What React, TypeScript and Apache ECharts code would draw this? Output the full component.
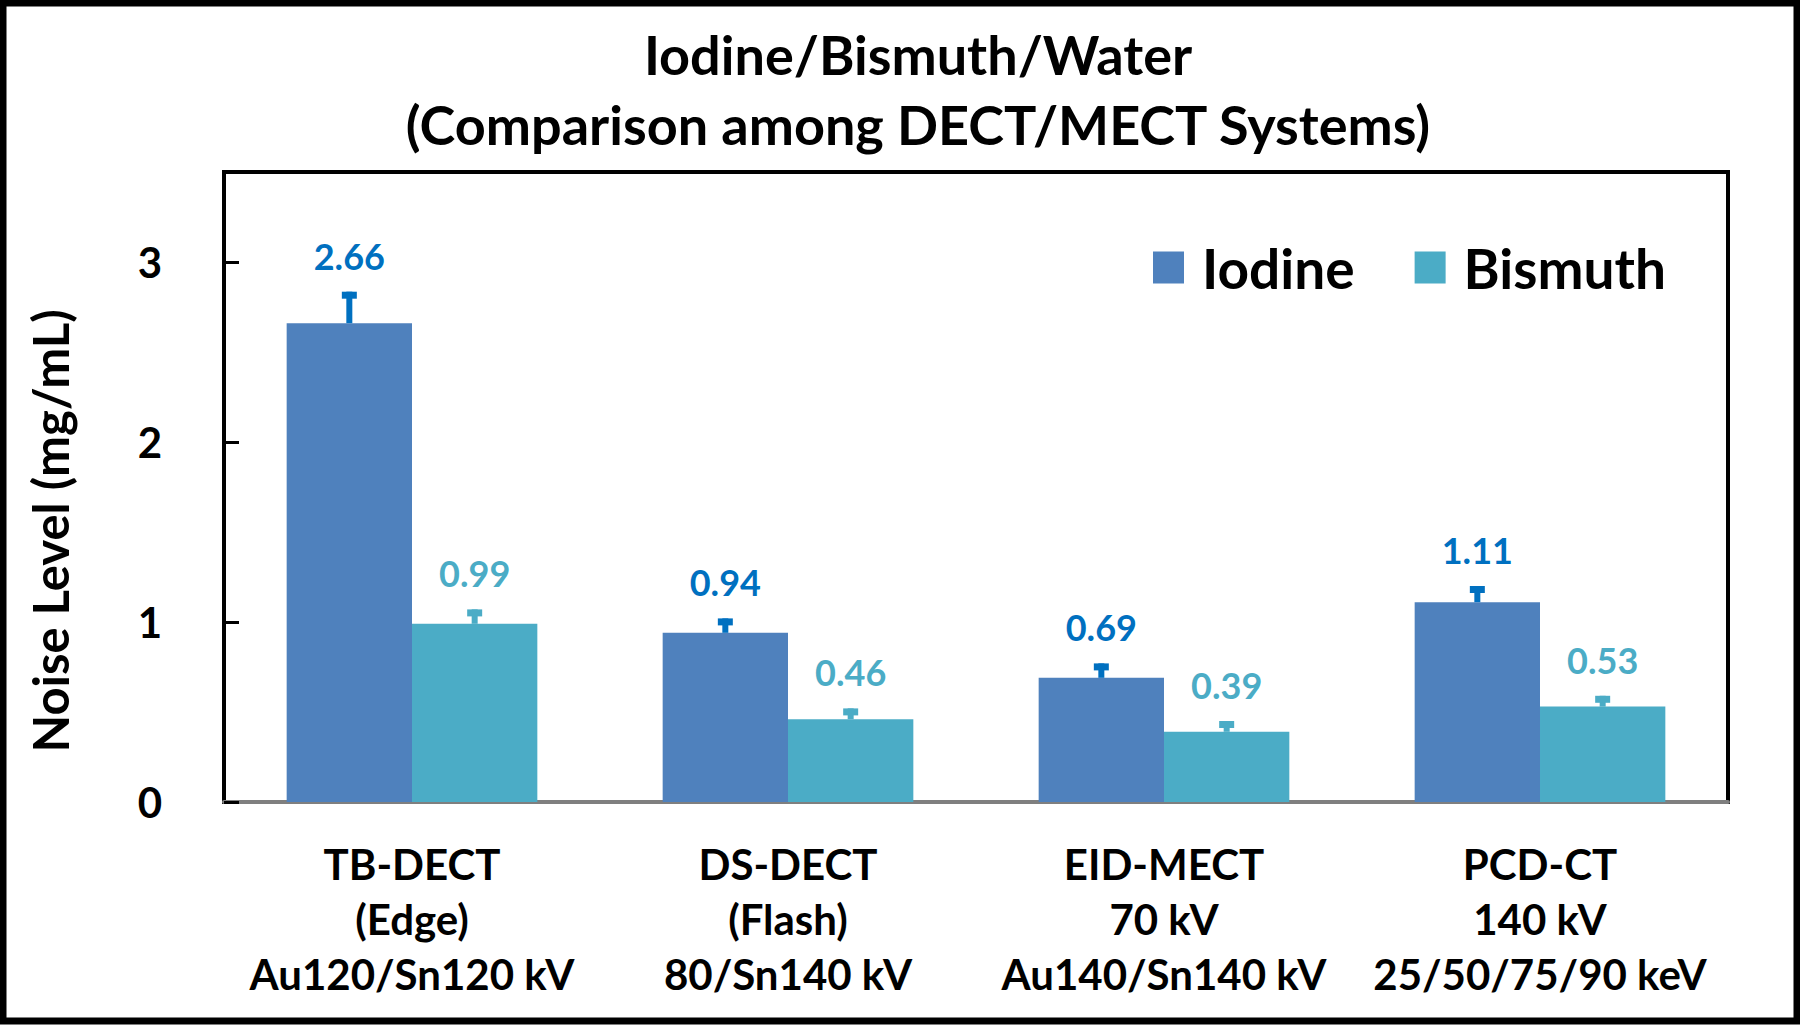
import React, { useEffect, useRef } from "react";
import * as echarts from "echarts";

const categories = [
  "TB-DECT\n(Edge)\nAu120/Sn120 kV",
  "DS-DECT\n(Flash)\n80/Sn140 kV",
  "EID-MECT\n70 kV\nAu140/Sn140 kV",
  "PCD-CT\n140 kV\n25/50/75/90 keV",
];
const iodine = [2.66, 0.94, 0.69, 1.11];
const bismuth = [0.99, 0.46, 0.39, 0.53];
const iodineErr = [0.175, 0.08, 0.08, 0.09];
const bismuthErr = [0.08, 0.06, 0.06, 0.06];
const yTicks = [0, 1, 2, 3];

const FONT = "Lato";
const IODINE_COLOR = "#4F81BD";
const BISMUTH_COLOR = "#4BACC6";
const IODINE_ERR_COLOR = "#0070C0";
const BISMUTH_ERR_COLOR = "#4BACC6";

export default function App() {
  const ref = useRef<HTMLDivElement>(null);
  useEffect(() => {
    if (!ref.current) return;
    const chart = echarts.init(ref.current, null, { renderer: "svg" });

    const errData: any[] = [];
    iodine.forEach((v, i) => errData.push([i, v, iodineErr[i], 0]));
    bismuth.forEach((v, i) => errData.push([i, v, bismuthErr[i], 1]));

    const renderErr = (params: any, api: any) => {
      const cat = api.value(0);
      const val = api.value(1);
      const err = api.value(2);
      const s = api.value(3);
      const band = api.size([1, 0])[0];
      const cx = api.coord([cat, 0])[0] + (s === 0 ? -band / 6 : band / 6);
      const yBar = api.coord([cat, val])[1];
      const yTop = api.coord([cat, val + err])[1];
      const color = s === 0 ? IODINE_ERR_COLOR : BISMUTH_ERR_COLOR;
      const capH = 7;
      const capW = 15;
      const stemW = 6;
      return {
        type: "group",
        children: [
          {
            type: "rect",
            shape: { x: cx - stemW / 2, y: yTop, width: stemW, height: yBar - yTop },
            style: { fill: color },
          },
          {
            type: "rect",
            shape: { x: cx - capW / 2, y: yTop, width: capW, height: capH },
            style: { fill: color },
          },
          {
            type: "text",
            x: cx,
            y: yTop - 36,
            style: {
              text: (val as number).toFixed(2),
              fill: color,
              fontFamily: FONT,
              fontWeight: "bold",
              fontSize: 36,
              align: "center",
              verticalAlign: "middle",
            },
          },
        ],
      };
    };

    chart.setOption({
      animation: false,
      backgroundColor: "#ffffff",
      title: {
        text: "Iodine/Bismuth/Water\n(Comparison among DECT/MECT Systems)",
        left: 913,
        top: 14,
        textAlign: "center",
        textStyle: {
          fontFamily: FONT,
          fontWeight: "bold",
          fontSize: 54,
          lineHeight: 70,
          color: "#000",
        },
      },
      legend: {
        data: ["Iodine", "Bismuth"],
        left: 1148,
        top: 235,
        itemWidth: 31,
        itemHeight: 32,
        itemGap: 60,
        icon: "rect",
        textStyle: {
          fontFamily: FONT,
          fontWeight: "bold",
          fontSize: 55,
          color: "#000",
          padding: [0, 0, 0, 13],
        },
      },
      grid: {
        left: 224,
        top: 172,
        right: 72,
        bottom: 224,
        show: true,
        borderColor: "#000",
        borderWidth: 4,
        backgroundColor: "transparent",
      },
      xAxis: {
        type: "category",
        data: categories,
        axisLine: { lineStyle: { color: "#7f7f7f", width: 4 } },
        axisTick: { show: false },
        axisLabel: {
          fontFamily: FONT,
          fontWeight: "bold",
          fontSize: 42,
          lineHeight: 55,
          color: "#000",
          margin: 34,
          interval: 0,
        },
      },
      yAxis: {
        type: "value",
        min: 0,
        max: 3.5,
        axisLine: { show: true, lineStyle: { color: "#000", width: 4 } },
        axisTick: {
          show: true,
          inside: true,
          length: 15,
          lineStyle: { color: "#000", width: 3 },
          customValues: yTicks,
        },
        splitLine: { show: false },
        axisLabel: {
          fontFamily: FONT,
          fontWeight: "bold",
          fontSize: 42,
          color: "#000",
          margin: 62,
          customValues: yTicks,
        },
      },
      graphic: [
        {
          type: "text",
          x: 50,
          y: 531,
          rotation: Math.PI / 2,
          style: {
            text: "Noise Level (mg/mL)",
            fontFamily: FONT,
            fontWeight: "bold",
            fontSize: 49,
            fill: "#000",
            align: "center",
            verticalAlign: "middle",
          },
        },
        {
          type: "rect",
          shape: { x: 3, y: 3, width: 1794, height: 1018 },
          style: { fill: "none", stroke: "#000", lineWidth: 7 },
          z: 100,
        },
      ],
      series: [
        {
          name: "Iodine",
          type: "bar",
          data: iodine,
          barGap: "0%",
          barCategoryGap: "33.33%",
          itemStyle: { color: IODINE_COLOR },
        },
        {
          name: "Bismuth",
          type: "bar",
          data: bismuth,
          barGap: "0%",
          barCategoryGap: "33.33%",
          itemStyle: { color: BISMUTH_COLOR },
        },
        {
          name: "errors",
          type: "custom",
          data: errData,
          encode: { x: 0, y: 1 },
          renderItem: renderErr,
          z: 10,
          clip: false,
        },
      ],
    });
    return () => chart.dispose();
  }, []);
  return (
    <div
      ref={ref}
      style={{ position: "absolute", left: 0, top: 0, width: 1800, height: 1026 }}
    />
  );
}
